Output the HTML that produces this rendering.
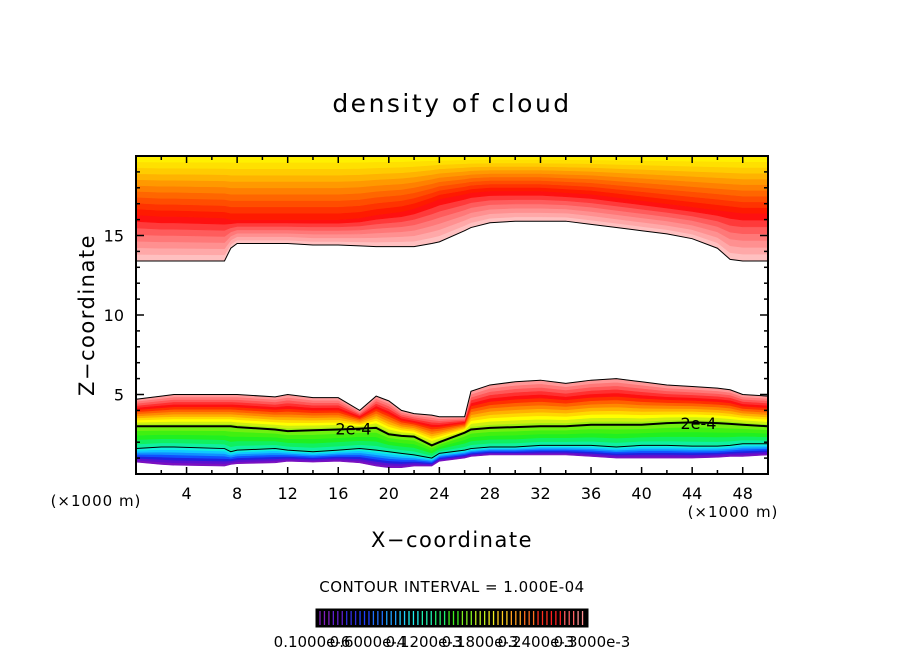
<!DOCTYPE html>
<html><head><meta charset="utf-8"><style>
body{margin:0;background:#fff;}
svg text{font-family:"DejaVu Sans","Liberation Sans",sans-serif;fill:#000;}
</style></head><body>
<svg id="chart" width="904" height="654" viewBox="0 0 904 654" xmlns="http://www.w3.org/2000/svg">
<rect width="904" height="654" fill="#fff"/>
<text x="452" y="112" font-size="25" letter-spacing="2.5" text-anchor="middle">density of cloud</text>
<g id="plot"></g>
<text x="452" y="547" font-size="21" letter-spacing="1.5" text-anchor="middle">X−coordinate</text>
<text transform="translate(94,315) rotate(-90)" font-size="21" letter-spacing="1.5" text-anchor="middle">Z−coordinate</text>
<text x="96" y="506" font-size="15" letter-spacing="1" text-anchor="middle">(×1000 m)</text>
<text x="733" y="517" font-size="15" letter-spacing="1" text-anchor="middle">(×1000 m)</text>
<text x="452" y="592" font-size="15" letter-spacing="0.5" text-anchor="middle">CONTOUR INTERVAL = 1.000E-04</text>
<g id="cbar"></g>
</svg>
<script>
// ---- data ----
const xs = [0,2,3,7,7.5,8,11,12,14,16,17.7,19,20,21,22,23.4,24,26,26.5,28,30,32,34,36,38,40,42,44,46,47,48,50];
const upperBase = [13.4,13.4,13.4,13.4,14.2,14.5,14.5,14.5,14.4,14.4,14.35,14.3,14.3,14.3,14.3,14.5,14.6,15.3,15.5,15.8,15.9,15.9,15.9,15.7,15.5,15.3,15.1,14.8,14.2,13.5,13.4,13.4];
const upperPeak = [16.3,16.2,16.2,16.1,16.0,16.0,16.0,16.0,16.0,16.0,16.1,16.3,16.4,16.5,16.7,17.1,17.3,17.6,17.7,17.8,17.8,17.8,17.7,17.6,17.4,17.2,17.0,16.8,16.6,16.5,16.4,16.4];
const lowerTop = [4.7,4.9,5.0,5.0,5.0,5.0,4.85,5.0,4.8,4.8,4.0,4.9,4.6,4.0,3.8,3.7,3.6,3.6,5.2,5.6,5.8,5.9,5.7,5.9,6.0,5.8,5.6,5.5,5.4,5.3,5.0,4.9];
const contour2 = [3.0,3.0,3.0,3.0,3.0,2.95,2.8,2.7,2.75,2.8,2.85,2.9,2.5,2.4,2.35,1.8,2.0,2.6,2.8,2.9,2.95,3.0,3.0,3.1,3.1,3.1,3.2,3.25,3.2,3.15,3.1,3.0];
const contour1 = [1.6,1.7,1.7,1.6,1.4,1.5,1.6,1.5,1.4,1.5,1.6,1.5,1.4,1.3,1.2,1.0,1.3,1.5,1.6,1.7,1.7,1.8,1.8,1.8,1.7,1.8,1.8,1.75,1.75,1.8,1.9,1.9];
const lowerBottom = [0.75,0.6,0.55,0.5,0.6,0.65,0.7,0.8,0.75,0.8,0.7,0.5,0.4,0.4,0.5,0.5,0.8,1.0,1.1,1.2,1.2,1.2,1.2,1.1,1.0,1.0,1.0,1.0,1.05,1.1,1.1,1.2];
const xTicks = [4,8,12,16,20,24,28,32,36,40,44,48];
const yTicks = [5,10,15];
const cbarLabels = ["0.1000e-6","0.6000e-4","0.1200e-3","0.1800e-3","0.2400e-3","0.3000e-3"];

// ---- axes ----
const L=136,R=768,T=156,B=474;
const X = v => L + v/50*(R-L);
const Y = v => B - v/20*(B-T);
const NS="http://www.w3.org/2000/svg";
const plot=document.getElementById('plot');
function mk(tag,attrs,parent){const e=document.createElementNS(NS,tag);for(const k in attrs)e.setAttribute(k,attrs[k]);(parent||plot).appendChild(e);return e;}
const lerp=(a,b,f)=>a+(b-a)*f;
function band(lo,hi,f0,f1,color,name){
  const top=xs.map((x,i)=>X(x)+','+Y(lerp(lo[i],hi[i],f1)));
  const bot=xs.map((x,i)=>X(x)+','+Y(lerp(lo[i],hi[i],f0))).reverse();
  const p=mk('polygon',{points:top.concat(bot).join(' '),fill:color,stroke:color,'stroke-width':0.6});
  
  
}
function line(arr,name,w){
  const p=mk('polyline',{points:xs.map((x,i)=>X(x)+','+Y(arr[i])).join(' '),fill:'none',stroke:'#000','stroke-width':w});
  
  
}
const top20 = xs.map(()=>20);
const upA=['#ffc0c0','#ffa8a8','#ff9090','#ff7878','#ff5c5c','#ff3a3a','#ff1010'];
upA.forEach((c,i)=>band(upperBase,upperPeak,i/upA.length,(i+1)/upA.length,c,'upper-cloud-band'));
const upB=['#ff1a00','#ff3300','#ff4d00','#ff6600','#ff8000','#ff9900','#ffb300','#ffcc00','#ffe000','#fff000'];
upB.forEach((c,i)=>band(upperPeak,top20,i/upB.length,(i+1)/upB.length,c,'upper-cloud-band'));
const lowA=['#7a10c0','#5a10d0','#2020e0','#1050ff','#1090ff','#10c8ff','#10f0e0'];
lowA.forEach((c,i)=>band(lowerBottom,contour1,i/lowA.length,(i+1)/lowA.length,c,'lower-cloud-band'));
const lowB=['#10f0a0','#10f060','#20f020','#40f010','#70f010'];
lowB.forEach((c,i)=>band(contour1,contour2,i/lowB.length,(i+1)/lowB.length,c,'lower-cloud-band'));
const lowC=['#a0f010','#d0f010','#ffff00','#ffd800','#ffb000','#ff8800','#ff6000','#ff3000','#ff1010','#ff3030','#ff5858','#ff7878','#ff9898'];
lowC.forEach((c,i)=>band(contour2,lowerTop,i/lowC.length,(i+1)/lowC.length,c,'lower-cloud-band'));
line(upperBase,'upper-cloud-outline',1);
line(lowerTop,'lower-cloud-outline',1);
line(contour2,'contour-2e-4',2);
line(contour1,'contour-1e-4',1);
[[17.2,'2e-4'],[44.5,'2e-4']].forEach(([x,t])=>{
  const i=xs.findIndex(v=>v>=x);
  const tx=mk('text',{x:X(x),y:Y(contour2[i])+6,'font-size':16,'text-anchor':'middle'});
  tx.textContent=t;
  
  
});
const fr=mk('rect',{x:L,y:T,width:R-L,height:B-T,fill:'none',stroke:'#000','stroke-width':2});


for(let v=2;v<50;v+=2){
  const len=(v%4===0)?7:4;
  mk('line',{x1:X(v),x2:X(v),y1:B,y2:B-len,stroke:'#000','stroke-width':1.5});
  mk('line',{x1:X(v),x2:X(v),y1:T,y2:T+len,stroke:'#000','stroke-width':1.5});
}
for(let v=1;v<20;v++){
  const len=(v%5===0)?8:4;
  mk('line',{x1:L,x2:L+len,y1:Y(v),y2:Y(v),stroke:'#000','stroke-width':1.5});
  mk('line',{x1:R,x2:R-len,y1:Y(v),y2:Y(v),stroke:'#000','stroke-width':1.5});
}
xTicks.forEach(v=>{
  const t=mk('text',{x:X(v),y:B+25,'font-size':16,'text-anchor':'middle'});
  t.textContent=v;
  
  
});
yTicks.forEach(v=>{
  const t=mk('text',{x:L-12,y:Y(v)+6,'font-size':16,'text-anchor':'end'});
  t.textContent=v;
  
  
});
const cb=document.getElementById('cbar');
mk('rect',{x:316,y:609,width:272,height:18,fill:'#000',stroke:'#000'},cb);
const cbCols=['#8020c0','#6020d0','#3030e0','#2040ff','#2070ff','#20a0ff','#20d0ff','#20f0f0','#20f0b0','#20f070','#40f020','#80f020','#c0f020','#f0f020','#ffd020','#ffa020','#ff7020','#ff3020','#ff2020','#ff6060','#ff9090'];
for(let i=0;i<60;i++){
  const c=cbCols[Math.floor(i/60*cbCols.length)];
  mk('line',{x1:320+i*4.45,x2:320+i*4.45,y1:611,y2:625,stroke:c,'stroke-width':1.3},cb);
}
cbarLabels.forEach((s,i)=>{
  const t=mk('text',{x:312+i*56,y:647,'font-size':15,'text-anchor':'middle'},cb);
  t.textContent=s;
  
  
});
</script>
</body></html>
